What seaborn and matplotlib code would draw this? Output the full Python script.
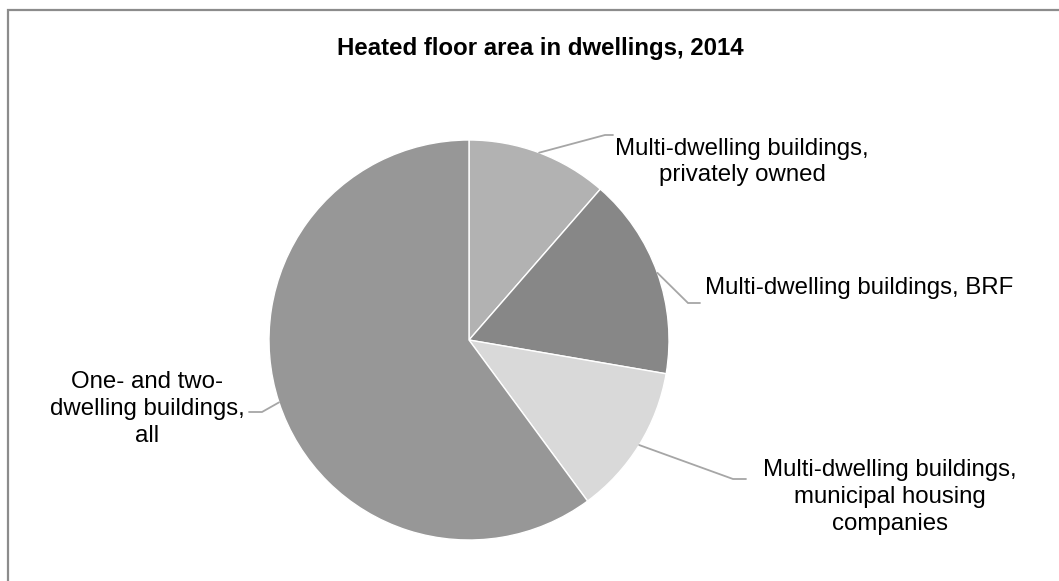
import numpy as np
import matplotlib
matplotlib.use("Agg")
import matplotlib.pyplot as plt
from matplotlib.patches import Rectangle
import seaborn as sns

# Heated floor area by building category (share, %)
categories = [
    "Multi-dwelling buildings,\nprivately owned",
    "Multi-dwelling buildings, BRF",
    "Multi-dwelling buildings,\nmunicipal housing\ncompanies",
    "One- and two-\ndwelling buildings,\nall",
]
shares = [11.4, 16.3, 12.2, 60.1]
slice_colors = ["#b2b2b2", "#878787", "#d9d9d9", "#979797"]
title = "Heated floor area in dwellings, 2014"

sns.set_theme(style="white")
plt.rcParams["font.family"] = ["Liberation Sans", "DejaVu Sans"]

W, H = 1059, 581
fig = plt.figure(figsize=(W / 100, H / 100), dpi=100)
fig.patch.set_facecolor("white")

# Chart-area frame
fig.add_artist(Rectangle((8 / W, -0.1), 1.2, 1 - 10 / H + 0.1,
                         transform=fig.transFigure, fill=False,
                         edgecolor="#8c8c8c", linewidth=1.6))

cx, cy, r = 469, 340, 200
ax = fig.add_axes([(cx - r) / W, (H - cy - r) / H, 2 * r / W, 2 * r / H])
wedges, _ = ax.pie(shares, colors=slice_colors, startangle=90, counterclock=False,
                   radius=1, wedgeprops=dict(edgecolor="white", linewidth=1.0))
ax.set_xlim(-1, 1)
ax.set_ylim(-1, 1)
ax.set_axis_off()

# Label text positions (center of text block) and leader elbows
label_pos = [(1.365, 0.89, "center"), (1.18, 0.26, "left"),
             (2.105, -0.785, "center"), (-1.61, -0.345, "center")]
elbows = [((0.68, 1.025), (0.72, 1.025)),
          ((1.095, 0.185), (1.155, 0.185)),
          ((1.32, -0.695), (1.385, -0.695)),
          ((-1.035, -0.36), (-1.10, -0.36))]

for w, lab, (tx, ty, ha), (e1, e2) in zip(wedges, categories, label_pos, elbows):
    mid = np.deg2rad((w.theta1 + w.theta2) / 2)
    px, py = np.cos(mid), np.sin(mid)
    ax.plot([px, e1[0], e2[0]], [py, e1[1], e2[1]], color="#a6a6a6",
            linewidth=1.3, clip_on=False, solid_joinstyle="miter")
    ax.text(tx, ty, lab, ha=ha, va="center", multialignment="center",
            fontsize=17.3, color="#000000", linespacing=1.29, clip_on=False)

fig.text(540 / W, 1 - 48 / H, title, ha="center", va="center",
         fontsize=17.3, fontweight="bold", color="#000000")

fig.savefig("out.png", dpi=100, facecolor="white")
